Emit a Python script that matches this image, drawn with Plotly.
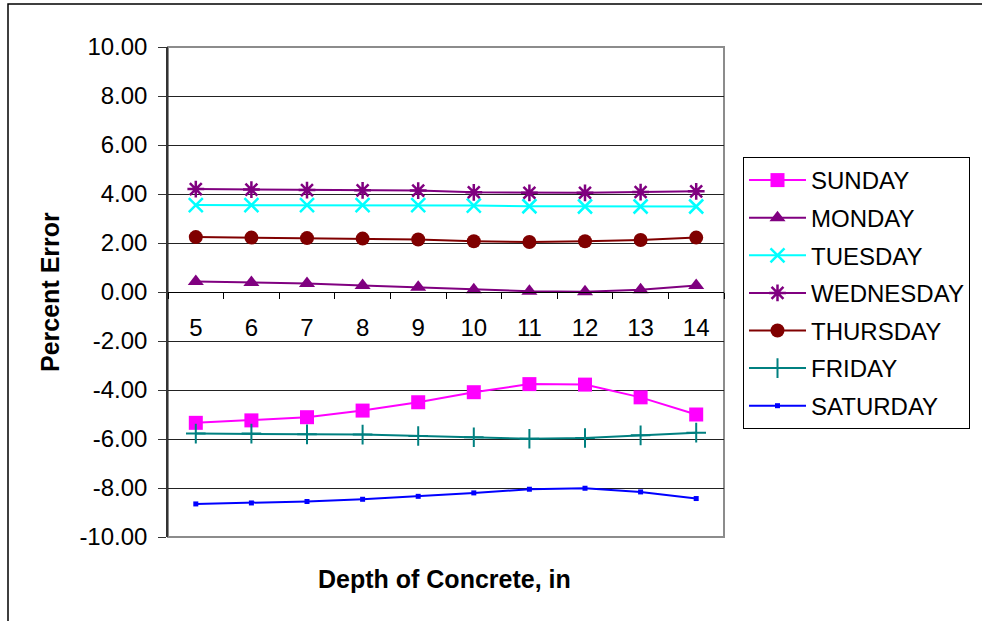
import plotly.graph_objects as go

# Depth of concrete (in) for each measurement
depths = ["5", "6", "7", "8", "9", "10", "11", "12", "13", "14"]

# Percent error by day of the week
sunday = [-5.34, -5.24, -5.11, -4.84, -4.50, -4.09, -3.76, -3.78, -4.30, -5.00]
monday = [0.43, 0.39, 0.35, 0.27, 0.19, 0.09, 0.03, 0.01, 0.09, 0.27]
tuesday = [3.55, 3.55, 3.55, 3.55, 3.55, 3.53, 3.50, 3.49, 3.49, 3.49]
wednesday = [4.20, 4.18, 4.16, 4.15, 4.14, 4.07, 4.05, 4.05, 4.08, 4.11]
thursday = [2.24, 2.22, 2.20, 2.18, 2.14, 2.07, 2.04, 2.07, 2.12, 2.22]
friday = [-5.78, -5.78, -5.81, -5.82, -5.88, -5.93, -5.99, -5.96, -5.85, -5.74]
saturday = [-8.65, -8.61, -8.55, -8.46, -8.34, -8.20, -8.05, -8.01, -8.16, -8.43]

y_ticks = [-10, -8, -6, -4, -2, 0, 2, 4, 6, 8, 10]
y_tick_text = [f"{v:.2f}" for v in y_ticks]

FONT = "Arial, Liberation Sans, sans-serif"

series = [
    ("SUNDAY", sunday, "#FF00FF", dict(symbol="square", size=14)),
    ("MONDAY", monday, "#800080", dict(symbol="triangle-up", size=14)),
    ("TUESDAY", tuesday, "#00FFFF", dict(symbol="x-thin-open", size=14, line=dict(width=2.5, color="#00FFFF"))),
    ("WEDNESDAY", wednesday, "#800080", dict(symbol="asterisk-open", size=14, line=dict(width=2.5, color="#800080"))),
    ("THURSDAY", thursday, "#800000", dict(symbol="circle", size=14)),
    ("FRIDAY", friday, "#008080", dict(symbol="cross-thin-open", size=14, line=dict(width=2, color="#008080"))),
    ("SATURDAY", saturday, "#0000FF", dict(symbol="square", size=5)),
]

fig = go.Figure()
for name, vals, color, marker in series:
    m = dict(color=color)
    m.update(marker)
    fig.add_trace(go.Scatter(
        x=depths, y=vals, name=name, legendgroup=name,
        mode="lines+markers",
        line=dict(color=color, width=2),
        marker=m,
    ))

W, H = 982, 621
L, R, T, B = 168, 724, 47, 537
pw, ph = R - L, B - T

def px(x):
    return (x - L) / pw

def py(y):
    return (B - y) / ph

fig.update_layout(
    width=W, height=H,
    margin=dict(l=L, r=W - R, t=T, b=H - B, pad=0),
    paper_bgcolor="white", plot_bgcolor="white",
    font=dict(family=FONT, size=24, color="black"),
    showlegend=True,
    legend=dict(
        x=px(743), y=py(157), xanchor="left", yanchor="top",
        bordercolor="black", borderwidth=1,
        font=dict(family=FONT, size=24, color="black"),
        itemwidth=57, tracegroupgap=3.4, traceorder="grouped",
        bgcolor="white",
    ),
    xaxis=dict(
        type="category", categoryorder="array", categoryarray=depths,
        anchor="free", position=0.5,
        showline=True, linecolor="black", linewidth=1,
        ticks="outside", ticklen=6, tickcolor="black", tickson="boundaries",
        showgrid=False, zeroline=False,
        tickfont=dict(family=FONT, size=24, color="black"),
        ticklabelstandoff=14,
        range=[-0.5, len(depths) - 0.5],
    ),
    yaxis=dict(
        range=[-10, 10], tickvals=y_ticks, ticktext=y_tick_text,
        showline=True, linecolor="#333333", linewidth=1.5,
        ticks="outside", ticklen=8, tickcolor="#333333",
        showgrid=True, gridcolor="#222222", gridwidth=1,
        zeroline=False, ticklabelstandoff=6,
        tickfont=dict(family=FONT, size=24, color="black"),
    ),
    shapes=[
        # plot-area frame
        dict(type="rect", xref="paper", yref="paper", x0=0, x1=1, y0=0, y1=1,
             line=dict(color="#8c8c8c", width=2), layer="below"),
        # chart-area border
        dict(type="rect", xref="paper", yref="paper",
             x0=px(8), x1=px(1000), y0=py(640), y1=py(4),
             line=dict(color="black", width=1.5)),
    ],
    annotations=[
        dict(text="<b>Depth of Concrete, in</b>", xref="paper", yref="paper",
             x=px(444), y=py(579), xanchor="center", yanchor="middle",
             showarrow=False, font=dict(family=FONT, size=25, color="black")),
        dict(text="<b>Percent Error</b>", xref="paper", yref="paper",
             x=px(50), y=py(292), xanchor="center", yanchor="middle",
             textangle=-90, showarrow=False,
             font=dict(family=FONT, size=25, color="black")),
    ],
)

fig.write_html("out.html")
